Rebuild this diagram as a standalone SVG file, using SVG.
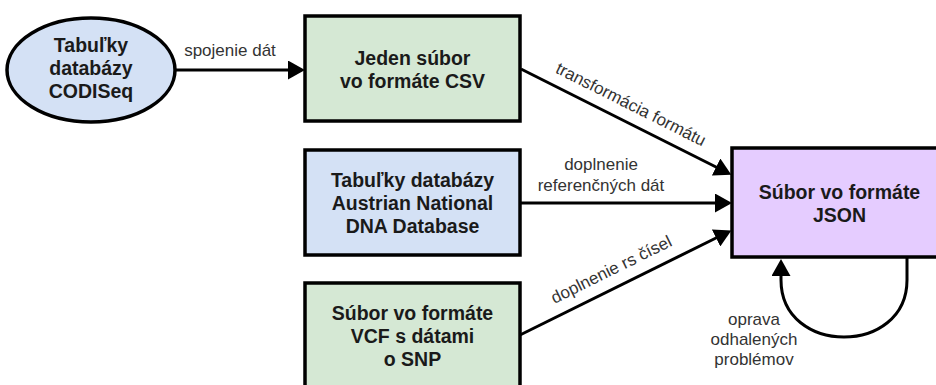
<svg xmlns="http://www.w3.org/2000/svg" width="936" height="385" viewBox="0 0 936 385">
<style>
.node{stroke:#000;stroke-width:3.5}
.green{fill:#d5e8d4}
.blue{fill:#d4e1f5}
.purple{fill:#e5ccff}
.nt{font-family:"Liberation Sans",Arial,sans-serif;font-weight:bold;font-size:19.5px;fill:#1a1a1a;text-anchor:middle}
.lt{font-family:"Liberation Sans",Arial,sans-serif;font-size:17px;fill:#333;text-anchor:middle}
.edge{fill:none;stroke:#000;stroke-width:3}
</style>
<defs>
<marker id="arr" markerUnits="userSpaceOnUse" viewBox="0 0 17 19" refX="1" refY="9.5" markerWidth="17" markerHeight="19" orient="auto">
<path d="M0,0 L17,9.5 L0,19 z" fill="#000"/>
</marker>
</defs>
<rect width="936" height="385" fill="#fff"/>
<g id="edges">
<line class="edge" x1="175" y1="70" x2="289" y2="70" marker-end="url(#arr)"/>
<line class="edge" x1="521" y1="69" x2="717" y2="167.5" marker-end="url(#arr)"/>
<line class="edge" x1="520" y1="203" x2="716" y2="203" marker-end="url(#arr)"/>
<line class="edge" x1="520" y1="335" x2="717" y2="237.5" marker-end="url(#arr)"/>
<path class="edge" d="M907,257 L907,280 C907,356 781,356 781,280 L781,275" marker-end="url(#arr)"/>
<text class="lt" x="230" y="56">spojenie dát</text>
<text class="lt" transform="translate(631,104) rotate(26.7)" x="0" y="6">transformácia formátu</text>
<text class="lt" x="601" y="170">doplnenie</text>
<text class="lt" x="601" y="191">referenčných dát</text>
<text class="lt" transform="translate(612,271) rotate(-26.3)" x="0" y="4">doplnenie rs čísel</text>
<text class="lt" x="754" y="325">oprava</text>
<text class="lt" x="754" y="345">odhalených</text>
<text class="lt" x="754" y="365">problémov</text>
</g>
<g id="codiseq">
<ellipse class="node blue" cx="91" cy="70" rx="84" ry="52"/>
<text class="nt" x="91" y="52">Tabuľky</text>
<text class="nt" x="91" y="75">databázy</text>
<text class="nt" x="91" y="98">CODISeq</text>
</g>
<g id="csv">
<rect class="node green" x="305" y="16" width="215" height="105"/>
<text class="nt" x="412.5" y="65">Jeden súbor</text>
<text class="nt" x="412.5" y="88">vo formáte CSV</text>
</g>
<g id="austrian">
<rect class="node blue" x="305" y="150" width="215" height="105"/>
<text class="nt" x="412.5" y="187">Tabuľky databázy</text>
<text class="nt" x="412.5" y="210">Austrian National</text>
<text class="nt" x="412.5" y="233">DNA Database</text>
</g>
<g id="vcf">
<rect class="node green" x="305" y="283" width="215" height="105"/>
<text class="nt" x="412.5" y="320">Súbor vo formáte</text>
<text class="nt" x="412.5" y="343">VCF s dátami</text>
<text class="nt" x="412.5" y="366">o SNP</text>
</g>
<g id="json">
<rect class="node purple" x="732" y="148" width="215" height="109"/>
<text class="nt" x="839.5" y="199">Súbor vo formáte</text>
<text class="nt" x="839.5" y="222">JSON</text>
</g>
</svg>
